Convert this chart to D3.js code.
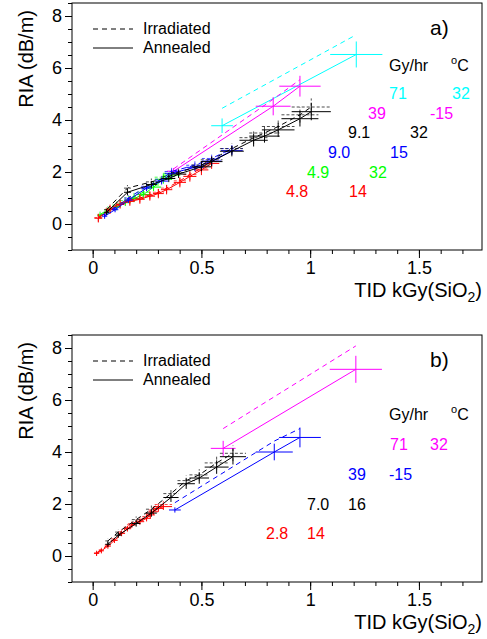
<!DOCTYPE html>
<html>
<head>
<meta charset="utf-8">
<script src="https://cdn.jsdelivr.net/npm/d3@7"></script>
<style>
  body { margin: 0; background: #fff; }
  svg { display: block; }
  text { font-family: "Liberation Sans", Arial, Helvetica, sans-serif; }
</style>
</head>
<body>
<div id="container"></div>
<script>
/* CONSTANTS AND GLOBALS */
const width = 487,
  height = 639;

/* DATA */
// axes
const xDomain = [-0.095, 1.79];
const yDomain = [-1, 8.5];
const xTickValues = [0, 0.5, 1, 1.5];
const xTickLabels = ["0", "0.5", "1", "1.5"];
const yTickValues = [0, 2, 4, 6, 8];

// panel a) legend table
const aRates = ["71", "39", "9.1", "9.0", "4.9", "4.8"];
const aTemps = ["32", "-15", "32", "15", "32", "14"];
const aColors = ["#00ffff", "#ff00ff", "#000000", "#0000ff", "#00ff00", "#ff0000"];

// panel a) 71 Gy/hr, 32 C
const a71Dose = [0.595, 1.212];
const a71Irr = [4.45, 7.28];
const a71Ann = [3.78, 6.52];
const a71Ex = [0.05, 0.12];
const a71Ey = [0.28, 0.5];

// panel a) 39 Gy/hr, -15 C
const a39Dose = [0.372, 0.83, 0.953];
const a39Irr = [2.12, 4.8, 5.55];
const a39Ann = [2.03, 4.53, 5.3];
const a39Ex = [0.03, 0.08, 0.095];
const a39Ey = [0.12, 0.35, 0.4];

// panel a) 9.1 Gy/hr, 32 C
const a91Dose = [0.064, 0.16, 0.27, 0.35, 0.395, 0.5, 0.547, 0.64, 0.74, 0.79, 0.853, 0.953, 1.005];
const a91Irr = [0.55, 1.38, 1.62, 1.82, 1.98, 2.27, 2.47, 2.9, 3.32, 3.5, 3.75, 4.2, 4.5];
const a91Ann = [0.45, 1.22, 1.52, 1.75, 1.92, 2.2, 2.4, 2.8, 3.22, 3.38, 3.62, 4.05, 4.32];
const a91Ex = [0.012, 0.016, 0.025, 0.03, 0.035, 0.045, 0.05, 0.055, 0.065, 0.07, 0.075, 0.085, 0.09];
const a91Ey = [0.1, 0.12, 0.13, 0.14, 0.15, 0.17, 0.18, 0.2, 0.24, 0.25, 0.27, 0.3, 0.33];

// panel a) 9.0 Gy/hr, 15 C
const a90Dose = [0.055, 0.103, 0.164, 0.248, 0.317, 0.363, 0.47, 0.547, 0.64];
const a90Irr = [0.36, 0.62, 1.0, 1.45, 1.72, 2.02, 2.26, 2.52, 2.9];
const a90Ann = [0.3, 0.55, 0.92, 1.38, 1.65, 1.95, 2.18, 2.42, 2.82];
const a90Ex = [0.012, 0.015, 0.02, 0.025, 0.03, 0.032, 0.04, 0.045, 0.05];
const a90Ey = [0.1, 0.1, 0.11, 0.12, 0.13, 0.14, 0.15, 0.16, 0.17];

// panel a) 4.9 Gy/hr, 32 C
const a49Dose = [0.034, 0.07, 0.11, 0.15, 0.19, 0.233, 0.28, 0.325, 0.363];
const a49Irr = [0.36, 0.56, 0.73, 0.9, 1.06, 1.22, 1.5, 1.8, 1.95];
const a49Ann = [0.32, 0.5, 0.66, 0.82, 0.98, 1.13, 1.42, 1.72, 1.88];
const a49Ex = [0.012, 0.015, 0.02, 0.025, 0.028, 0.03, 0.035, 0.04, 0.04];
const a49Ey = [0.12, 0.12, 0.13, 0.13, 0.14, 0.15, 0.16, 0.17, 0.18];

// panel a) 4.8 Gy/hr, 14 C
const a48Dose = [0.026, 0.08, 0.126, 0.171, 0.217, 0.263, 0.302, 0.34, 0.401, 0.447, 0.5, 0.547];
const a48Irr = [0.25, 0.6, 0.8, 0.92, 1.0, 1.12, 1.22, 1.38, 1.66, 1.9, 2.15, 2.4];
const a48Ann = [0.22, 0.55, 0.75, 0.87, 0.95, 1.07, 1.17, 1.32, 1.6, 1.83, 2.08, 2.33];
const a48Ex = [0.018, 0.02, 0.02, 0.022, 0.022, 0.024, 0.025, 0.026, 0.028, 0.03, 0.032, 0.035];
const a48Ey = [0.16, 0.16, 0.16, 0.17, 0.17, 0.17, 0.18, 0.18, 0.19, 0.2, 0.2, 0.21];

// panel b) legend table
const bRates = ["71", "39", "7.0", "2.8"];
const bTemps = ["32", "-15", "16", "14"];
const bColors = ["#ff00ff", "#0000ff", "#000000", "#ff0000"];

// panel b) 71 Gy/hr, 32 C
const b71Dose = [0.6, 1.21];
const b71Irr = [4.9, 8.08];
const b71Ann = [4.14, 7.18];
const b71Ex = [0.057, 0.12];
const b71Ey = [0.29, 0.52];

// panel b) 39 Gy/hr, -15 C
const b39Dose = [0.378, 0.835, 0.953];
const b39Irr = [2.05, 4.42, 4.9];
const b39Ann = [1.77, 4.0, 4.56];
const b39Ex = [0.027, 0.085, 0.096];
const b39Ey = [0.1, 0.32, 0.38];

// panel b) 7.0 Gy/hr, 16 C
const b70Dose = [0.07, 0.118, 0.2, 0.27, 0.36, 0.43, 0.49, 0.57, 0.645];
const b70Irr = [0.58, 0.92, 1.4, 1.8, 2.4, 2.9, 3.12, 3.58, 3.95];
const b70Ann = [0.45, 0.8, 1.25, 1.65, 2.25, 2.78, 3.0, 3.42, 3.82];
const b70Ex = [0.012, 0.015, 0.02, 0.025, 0.035, 0.04, 0.045, 0.055, 0.06];
const b70Ey = [0.1, 0.1, 0.12, 0.14, 0.17, 0.2, 0.22, 0.26, 0.3];

// panel b) 2.8 Gy/hr, 14 C
const b28Dose = [0.018, 0.04, 0.07, 0.1, 0.133, 0.16, 0.18, 0.217, 0.248, 0.265, 0.279, 0.302, 0.325];
const b28Irr = [0.12, 0.24, 0.43, 0.66, 0.93, 1.11, 1.24, 1.38, 1.52, 1.65, 1.77, 1.9, 1.98];
const b28Ann = [0.1, 0.2, 0.38, 0.6, 0.87, 1.05, 1.19, 1.32, 1.45, 1.58, 1.7, 1.83, 1.9];
const b28Ex = [0.012, 0.012, 0.014, 0.015, 0.016, 0.017, 0.018, 0.02, 0.02, 0.021, 0.022, 0.024, 0.04];
const b28Ey = [0.1, 0.1, 0.1, 0.1, 0.11, 0.11, 0.11, 0.12, 0.12, 0.12, 0.12, 0.13, 0.13];

/* SERIES TABLES (built from the arrays above) */
const seriesA = [
  { color: aColors[0], x: a71Dose, irr: a71Irr, ann: a71Ann, ex: a71Ex, ey: a71Ey, irrBars: false },
  { color: aColors[1], x: a39Dose, irr: a39Irr, ann: a39Ann, ex: a39Ex, ey: a39Ey, irrBars: false },
  { color: aColors[4], x: a49Dose, irr: a49Irr, ann: a49Ann, ex: a49Ex, ey: a49Ey, irrBars: true },
  { color: aColors[5], x: a48Dose, irr: a48Irr, ann: a48Ann, ex: a48Ex, ey: a48Ey, irrBars: true },
  { color: aColors[3], x: a90Dose, irr: a90Irr, ann: a90Ann, ex: a90Ex, ey: a90Ey, irrBars: true },
  { color: aColors[2], x: a91Dose, irr: a91Irr, ann: a91Ann, ex: a91Ex, ey: a91Ey, irrBars: true }
];
const seriesB = [
  { color: bColors[0], x: b71Dose, irr: b71Irr, ann: b71Ann, ex: b71Ex, ey: b71Ey, irrBars: false },
  { color: bColors[1], x: b39Dose, irr: b39Irr, ann: b39Ann, ex: b39Ex, ey: b39Ey, irrBars: false },
  { color: bColors[3], x: b28Dose, irr: b28Irr, ann: b28Ann, ex: b28Ex, ey: b28Ey, irrBars: true },
  { color: bColors[2], x: b70Dose, irr: b70Irr, ann: b70Ann, ex: b70Ex, ey: b70Ey, irrBars: true }
];

/* LAYOUT */
const frameLeft = 72, frameRight = 482;
const panels = [
  { tag: "a)", top: 3, bottom: 250, series: seriesA, rates: aRates, temps: aTemps, colors: aColors,
    headerY: 71,
    rowPos: [[389, 452, 99], [368, 430, 118.5], [348, 410, 138], [328, 390, 157.5], [307, 369, 177.5], [286, 349, 197]] },
  { tag: "b)", top: 335, bottom: 582, series: seriesB, rates: bRates, temps: bTemps, colors: bColors,
    headerY: 420,
    rowPos: [[390, 430, 450], [348, 389, 480], [307, 348, 510], [266, 307, 538.5]] }
];
const dash = "5,4";

const svg = d3.select("#container")
  .append("svg")
  .attr("width", width)
  .attr("height", height);

panels.forEach(drawPanel);

/* DRAW FUNCTION */
function drawPanel(p) {
  const xScale = d3.scaleLinear().domain(xDomain).range([frameLeft, frameRight]);
  const yScale = d3.scaleLinear().domain(yDomain).range([p.bottom, p.top]);

  const g = svg.append("g");

  // frame
  g.append("rect")
    .attr("x", frameLeft)
    .attr("y", p.top)
    .attr("width", frameRight - frameLeft)
    .attr("height", p.bottom - p.top)
    .attr("fill", "none")
    .attr("stroke", "#000")
    .attr("stroke-width", 1);

  // minor ticks
  g.append("g")
    .attr("transform", `translate(0, ${p.bottom})`)
    .call(d3.axisBottom(xScale).tickValues(d3.range(0, 1.75, 0.1)).tickSize(4).tickFormat(""))
    .call(a => a.select(".domain").remove());
  g.append("g")
    .attr("transform", `translate(${frameLeft}, 0)`)
    .call(d3.axisLeft(yScale).tickValues(d3.range(-1, 8.51, 0.5)).tickSize(4).tickFormat(""))
    .call(a => a.select(".domain").remove());

  // major ticks + labels
  g.append("g")
    .attr("transform", `translate(0, ${p.bottom})`)
    .call(d3.axisBottom(xScale).tickValues(xTickValues).tickSize(8).tickPadding(3)
      .tickFormat((d, i) => xTickLabels[i]))
    .call(a => a.select(".domain").remove())
    .selectAll("text")
      .attr("fill", "#000")
      .style("font-size", "18px")
      .style("font-family", "Liberation Sans, Arial, sans-serif");
  g.append("g")
    .attr("transform", `translate(${frameLeft}, 0)`)
    .call(d3.axisLeft(yScale).tickValues(yTickValues).tickSize(7).tickPadding(3))
    .call(a => a.select(".domain").remove())
    .selectAll("text")
      .attr("fill", "#000")
      .style("font-size", "18px")
      .style("font-family", "Liberation Sans, Arial, sans-serif");
  g.selectAll(".tick line").attr("stroke", "#000");

  // axis titles
  g.append("text")
    .attr("transform", `translate(33, ${p.top + 7}) rotate(-90)`)
    .attr("text-anchor", "end")
    .style("font-size", "20px")
    .text("RIA (dB/m)");

  const xt = g.append("text")
    .attr("x", frameRight)
    .attr("y", p.bottom + 47)
    .attr("text-anchor", "end")
    .style("font-size", "20px");
  xt.append("tspan").text("TID kGy(SiO");
  xt.append("tspan").attr("dy", 5).style("font-size", "14px").text("2");
  xt.append("tspan").attr("dy", -5).text(")");

  // data
  const plot = g.append("g");
  const line = d3.line().x(d => xScale(d[0])).y(d => yScale(d[1]));

  p.series.forEach(s => {
    const irrPts = s.x.map((x, i) => [x, s.irr[i]]);
    const annPts = s.x.map((x, i) => [x, s.ann[i]]);

    plot.append("path")
      .attr("d", line(irrPts))
      .attr("fill", "none")
      .attr("stroke", s.color)
      .attr("stroke-width", 1)
      .attr("stroke-dasharray", dash);

    plot.append("path")
      .attr("d", line(annPts))
      .attr("fill", "none")
      .attr("stroke", s.color)
      .attr("stroke-width", 1);

    const drawBars = (vals, dashed) => {
      const bars = plot.append("g")
        .attr("stroke", s.color)
        .attr("stroke-width", 1)
        .attr("stroke-opacity", dashed ? 0.7 : 1)
        .attr("stroke-dasharray", dashed ? "3,2" : null);
      bars.selectAll("line.h")
        .data(s.x.map((x, i) => i))
        .join("line")
        .attr("class", "h")
        .attr("x1", i => xScale(s.x[i] - s.ex[i]))
        .attr("x2", i => xScale(s.x[i] + s.ex[i]))
        .attr("y1", i => yScale(vals[i]))
        .attr("y2", i => yScale(vals[i]));
      bars.selectAll("line.v")
        .data(s.x.map((x, i) => i))
        .join("line")
        .attr("class", "v")
        .attr("x1", i => xScale(s.x[i]))
        .attr("x2", i => xScale(s.x[i]))
        .attr("y1", i => yScale(vals[i] - s.ey[i]))
        .attr("y2", i => yScale(vals[i] + s.ey[i]));
    };
    if (s.irrBars) drawBars(s.irr, true);
    drawBars(s.ann, false);
  });

  // legend
  const lg = g.append("g");
  lg.append("line")
    .attr("x1", 93).attr("x2", 133)
    .attr("y1", p.top + 26).attr("y2", p.top + 26)
    .attr("stroke", "#000").attr("stroke-dasharray", dash);
  lg.append("text")
    .attr("x", 143).attr("y", p.top + 31)
    .style("font-size", "16px")
    .text("Irradiated");
  lg.append("line")
    .attr("x1", 93).attr("x2", 133)
    .attr("y1", p.top + 45).attr("y2", p.top + 45)
    .attr("stroke", "#000");
  lg.append("text")
    .attr("x", 143).attr("y", p.top + 50)
    .style("font-size", "16px")
    .text("Annealed");

  // panel tag
  g.append("text")
    .attr("x", 430).attr("y", p.top + 32)
    .style("font-size", "21px")
    .text(p.tag);

  // dose rate / temperature table
  g.append("text")
    .attr("x", 389).attr("y", p.headerY)
    .style("font-size", "16px")
    .text("Gy/hr");
  const deg = g.append("text")
    .attr("x", 451).attr("y", p.headerY)
    .style("font-size", "16px");
  deg.append("tspan").attr("dy", -7).style("font-size", "11px").text("o");
  deg.append("tspan").attr("dy", 7).text("C");

  p.rates.forEach((r, i) => {
    const pos = p.rowPos[i];
    g.append("text")
      .attr("x", pos[0]).attr("y", pos[2])
      .attr("fill", p.colors[i])
      .style("font-size", "16px")
      .text(r);
    g.append("text")
      .attr("x", pos[1]).attr("y", pos[2])
      .attr("fill", p.colors[i])
      .style("font-size", "16px")
      .text(p.temps[i]);
  });
}
</script>
</body>
</html>
